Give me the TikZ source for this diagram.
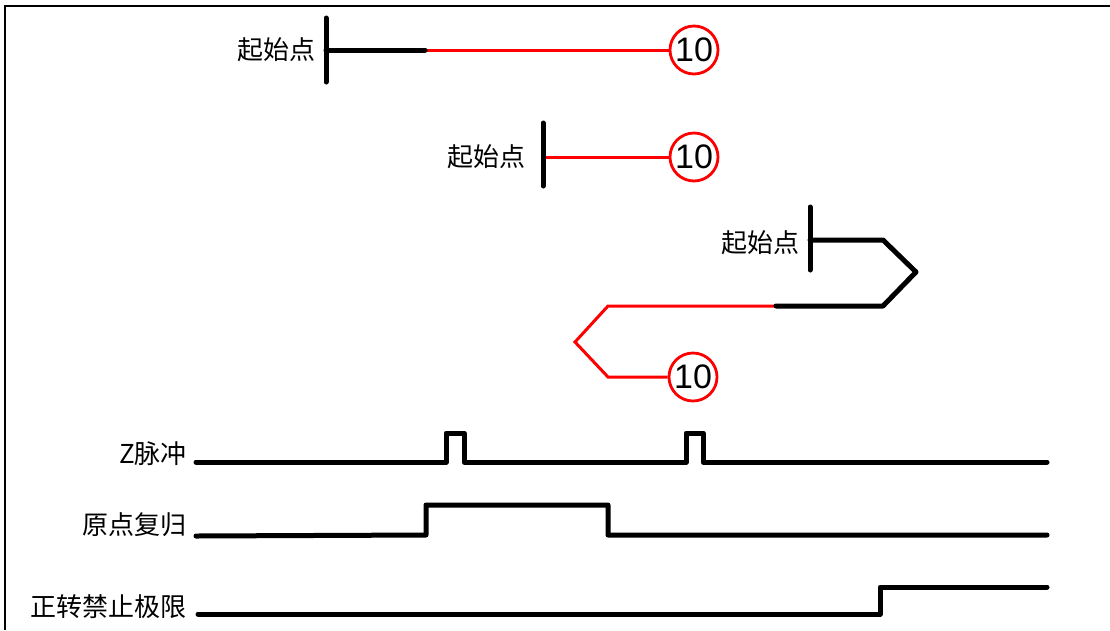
\documentclass[tikz,border=0pt]{standalone}
\usepackage{fontspec}
\setmainfont{Liberation Sans}
\newfontfamily\cjk{Noto Sans CJK SC}
\usetikzlibrary{calc}

\tikzset{
  heavy/.style={line width=5pt,line cap=round,line join=round,color=black},
  redpath/.style={line width=3pt,color=red},
  endmark/.style={circle,draw=red,line width=2.8pt,minimum size=48pt,inner sep=0pt,
    font=\fontsize{34}{34}\selectfont},
  cjklabel/.style={anchor=east,inner sep=0pt,font=\cjk\fontsize{26}{26}\selectfont},
}

\begin{document}
\begin{tikzpicture}[x=1pt,y=-1pt]
\useasboundingbox (0,0) rectangle (1110,630);
\draw[line width=2.5pt] (5,630) -- (5,6) -- (1110,6);

% start points
\coordinate (S1a) at (326,18);  \coordinate (S1b) at (326,82);  \coordinate (S1) at (326,50);
\coordinate (S2a) at (543,123); \coordinate (S2b) at (543,186); \coordinate (S2) at (543,157);
\coordinate (S3a) at (810,207); \coordinate (S3b) at (810,270); \coordinate (S3) at (810,240);

\node[cjklabel] (L1) at (316,50) {起始点};
\node[cjklabel] (L2) at (526,157) {起始点};
\node[cjklabel] (L3) at (800,243) {起始点};

\node[endmark] (T1) at (694,50) {10};
\node[endmark] (T2) at (694,157) {10};
\node[endmark] (T3) at (693,377) {10};

% first run
\coordinate (P1) at (425,50);
\draw[redpath] (P1) -- (T1.west);
\draw[heavy] (S1a) -- (S1b);
\draw[heavy] (S1) -- (P1);

% second run
\draw[redpath] (S2) -- (T2.west);
\draw[heavy] (S2a) -- (S2b);

% third run
\coordinate (Q1) at (883,240); \coordinate (Q2) at (916,272);
\coordinate (Q3) at (883,306); \coordinate (Q4) at (776,306);
\coordinate (R1) at (608,306); \coordinate (R2) at (575,342);
\coordinate (R3) at (608,377);
\draw[redpath,line join=miter] (Q4) -- (R1) -- (R2) -- (R3) -- (T3.west);
\draw[heavy] (S3a) -- (S3b);
\draw[heavy] (S3) -- (Q1) -- (Q2) -- (Q3) -- (Q4);

% signals
\node[cjklabel] (Z) at (187,454) {Z脉冲};
\node[cjklabel] (O) at (187,525) {原点复归};
\node[cjklabel] (F) at (187,607) {正转禁止极限};

\draw[heavy] (196,462) -- (446,462) -- (446,433) -- (464,433) -- (464,462)
  -- (686,462) -- (686,433) -- (703,433) -- (703,462) -- (1047,462);
\draw[heavy] (196,536) -- (426,535) -- (426,505) -- (608,505) -- (608,535) -- (1047,535);
\draw[heavy] (198,614) -- (880,614) -- (880,587) -- (1047,587);

\end{tikzpicture}
\end{document}
